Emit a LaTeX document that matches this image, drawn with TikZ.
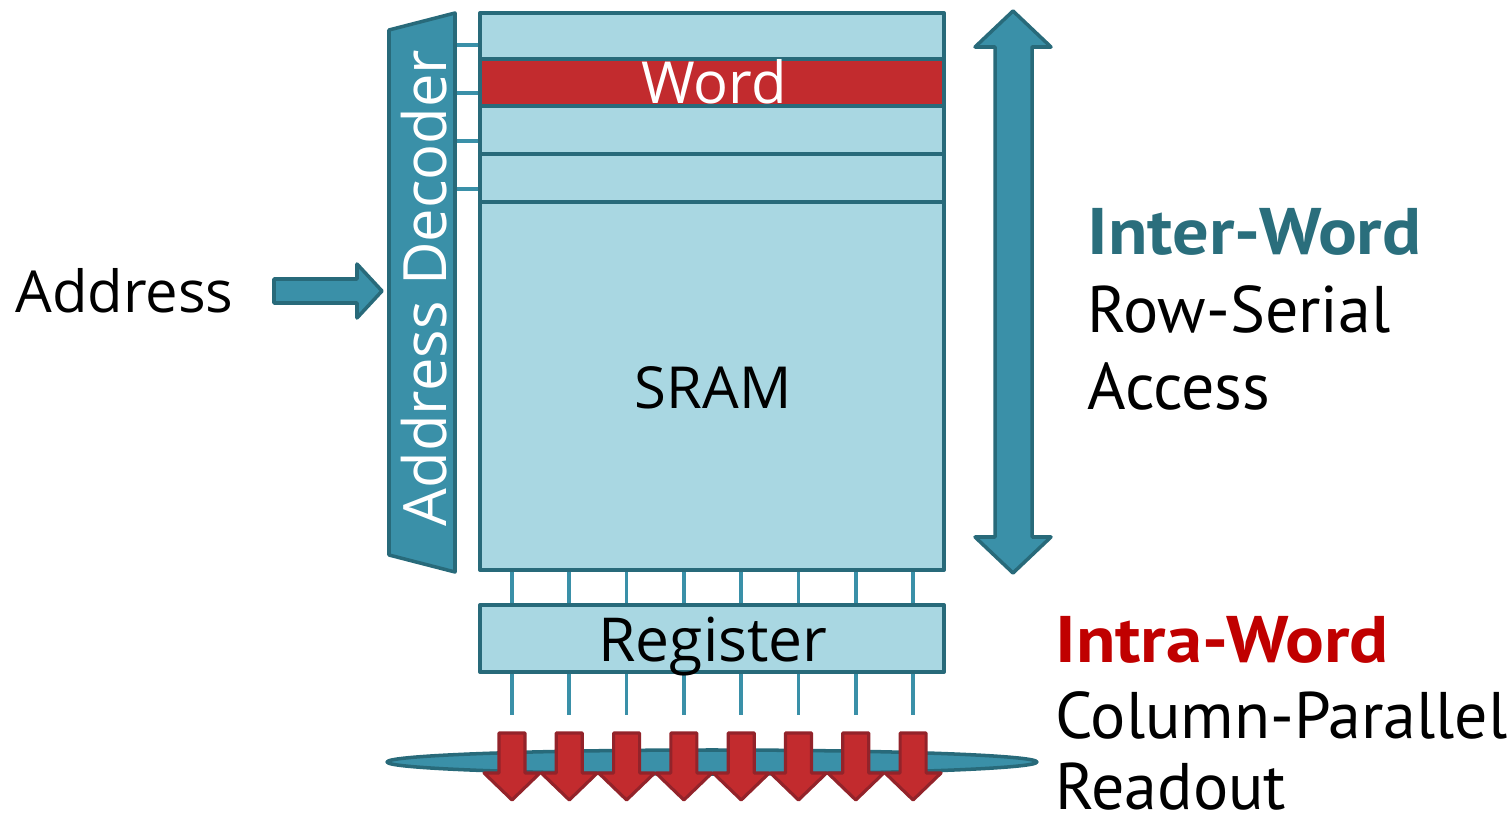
\documentclass[tikz,border=0pt]{standalone}
\usepackage{fontspec}
\setmainfont{Open Sans}
\newfontfamily\sidefont{PT Sans}
\definecolor{cellfill}{HTML}{A9D7E2}
\definecolor{edge}{HTML}{286A7A}
\definecolor{tealfill}{HTML}{3A90A8}
\definecolor{wordred}{HTML}{C22B2E}
\definecolor{arrowedge}{HTML}{93232A}
\definecolor{intertext}{HTML}{2A6E7C}
\definecolor{intratext}{HTML}{C00000}
\newcommand\widebold[1]{\scalebox{1.1}[1]{\bfseries #1}}
\begin{document}
\begin{tikzpicture}[x=0.02cm,y=-0.02cm,line join=round,
  box/.style={draw=edge,fill=cellfill,line width=2.3pt},
  rowline/.style={draw=edge,line width=2.3pt},
  tap/.style={draw=tealfill,line width=2.1pt},
  tealshape/.style={draw=edge,fill=tealfill,line width=2pt},
  redshape/.style={draw=arrowedge,fill=wordred,line width=1.8pt},
  lbl/.style={inner sep=0pt,font=\fontsize{33}{40}\selectfont},
  side/.style={inner sep=0pt,anchor=base west,font=\sidefont\fontsize{37.5}{45}\selectfont}]
\useasboundingbox (0,0) rectangle (1511,820);

% corner points of the memory array and the register
\coordinate (arrNW) at (480,13);
\coordinate (arrSE) at (944,570);
\coordinate (regNW) at (480,605);
\coordinate (regSE) at (944,672);

% column lines (drawn first so the box borders cover their ends)
\foreach \i in {0,...,7}{
  \pgfmathsetmacro\cx{512+57.3*\i}
  \draw[tap] (\cx,570) -- (\cx,605);
  \draw[tap] (\cx,672) -- (\cx,715);
}

% word-line taps from the decoder
\foreach \yy in {45,93,141,189}{
  \draw[tap] (455,\yy) -- (480,\yy);
}

% memory array with the selected word
\fill[cellfill] (arrNW) rectangle (arrSE);
\fill[wordred] (480,59) rectangle (944,106);
\foreach \yy in {59,106,154,202}{
  \draw[rowline] (480,\yy) -- (944,\yy);
}
\draw[edge,line width=2.3pt] (arrNW) rectangle (arrSE);
\node[lbl,white,anchor=base] (word) at (714,104) {Word};
\node[lbl,anchor=base] (sram) at (713,409) {SRAM};

% register
\draw[box] (regNW) rectangle (regSE);
\node[lbl,anchor=base,font=\fontsize{34.5}{40}\selectfont] (reg) at (713,661) {Register};

% address decoder
\draw[tealshape] (389,30) -- (455,13) -- (455,572) -- (389,555) -- cycle;
\node[lbl,white,rotate=90,anchor=base,font=\fontsize{34}{40}\selectfont] (dec) at (446,288) {Address Decoder};

% address input
\node[lbl,anchor=base west] (addr) at (15,313) {Address};
\draw[tealshape] (274,279) -- (357,279) -- (357,264) -- (382,291) -- (357,318)
  -- (357,303) -- (274,303) -- cycle;

% row-serial double arrow
\draw[tealshape] (1013,11) -- (1051,47) -- (1032,47) -- (1032,537) -- (1051,537)
  -- (1013,573) -- (975,537) -- (995,537) -- (995,47) -- (975,47) -- cycle;

% readout bus and the column-parallel outputs
\draw[tealshape] (712,762) ellipse [x radius=6.5cm,y radius=0.24cm];
\foreach \i in {0,...,7}{
  \pgfmathsetmacro\cx{512+57.3*\i}
  \draw[redshape] ({\cx-13},733) -- ({\cx+13},733) -- ({\cx+13},773) -- ({\cx+28},773)
    -- (\cx,800) -- ({\cx-28},773) -- ({\cx-13},773) -- cycle;
}

% side captions
\node[side,intertext] (inter) at (1087,255) {\widebold{Inter-Word}};
\node[side] (rowser) at (1087,333) {Row-Serial};
\node[side] (access) at (1087,410) {Access};
\node[side,intratext] (intra) at (1055,662) {\widebold{Intra-Word}};
\node[side] (colpar) at (1055,738) {Column-Parallel};
\node[side] (readout) at (1055,809) {Readout};
\end{tikzpicture}
\end{document}
